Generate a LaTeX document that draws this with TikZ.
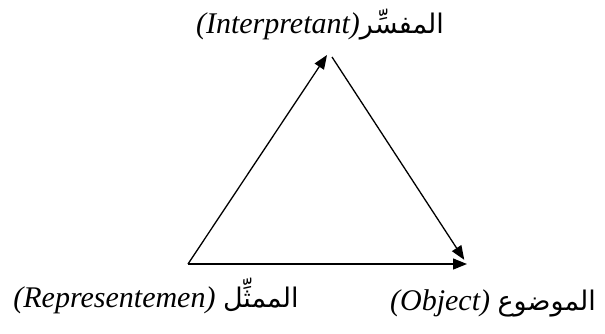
\documentclass[tikz,border=0pt]{standalone}
\usepackage{fontspec}
\setmainfont{Liberation Serif}
\newfontfamily\arabicfont[Script=Arabic]{DejaVu Sans}
\newcommand\arab[1]{{\arabicfont\fontsize{27}{32}\selectfont\beginR #1\endR}}
\TeXXeTstate=1
\usetikzlibrary{arrows.meta,positioning}

\begin{document}
\begin{tikzpicture}[
  x=1pt, y=-1pt,
  font=\fontsize{30}{36}\selectfont,
  sign/.style={anchor=base,inner sep=0pt},
  arrow/.style={-{Triangle[length=14pt,width=11pt]},line width=1.3pt},
]
\useasboundingbox (0,0) rectangle (605,333);
\coordinate (rep) at (188,264);
\coordinate (int) at (327,55);
\coordinate (apex) at (332,57);
\coordinate (obj) at (467,264);
\node[sign] (intlabel) at (320,33) {\textit{(Interpretant)}\arab{المفسِّر}};
\node[sign] (replabel) at (156,307) {\textit{(Representemen)} \arab{الممثِّل}};
\node[sign] (objlabel) at (493,310) {\textit{(Object)} \arab{الموضوع}};
\draw[arrow] (rep) -- (int);
\draw[arrow,shorten >=5pt] (apex) -- (obj);
\draw[arrow] (rep) -- (obj);
\end{tikzpicture}
\end{document}
